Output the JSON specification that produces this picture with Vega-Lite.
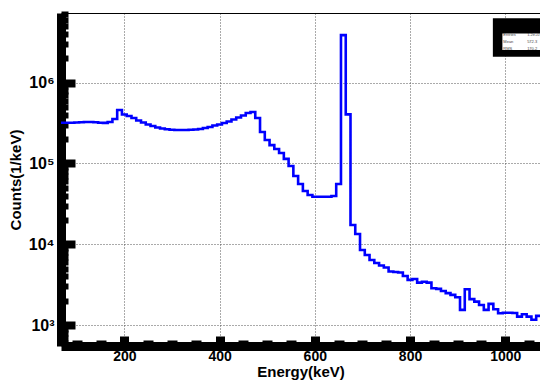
{
  "$schema": "https://vega.github.io/schema/vega-lite/v6.json",
  "width": 479,
  "height": 333,
  "autosize": {"type": "none"},
  "padding": {"left": 61, "top": 13, "right": 0, "bottom": 37},
  "background": "white",
  "config": {"view": {"stroke": null}, "font": "Liberation Sans"},
  "datasets": {
    "hist": [
      {"energy": 65, "counts": 320000},
      {"energy": 75, "counts": 320000},
      {"energy": 85, "counts": 320000},
      {"energy": 95, "counts": 322000},
      {"energy": 105, "counts": 324000},
      {"energy": 115, "counts": 326000},
      {"energy": 125, "counts": 326000},
      {"energy": 135, "counts": 324000},
      {"energy": 145, "counts": 320000},
      {"energy": 155, "counts": 318000},
      {"energy": 165, "counts": 326000},
      {"energy": 175, "counts": 355000},
      {"energy": 185, "counts": 459000},
      {"energy": 195, "counts": 404000},
      {"energy": 205, "counts": 387000},
      {"energy": 215, "counts": 366000},
      {"energy": 225, "counts": 340000},
      {"energy": 235, "counts": 322000},
      {"energy": 245, "counts": 304000},
      {"energy": 255, "counts": 291000},
      {"energy": 265, "counts": 279000},
      {"energy": 275, "counts": 271000},
      {"energy": 285, "counts": 265000},
      {"energy": 295, "counts": 262000},
      {"energy": 305, "counts": 260000},
      {"energy": 315, "counts": 260000},
      {"energy": 325, "counts": 260000},
      {"energy": 335, "counts": 262000},
      {"energy": 345, "counts": 264000},
      {"energy": 355, "counts": 267000},
      {"energy": 365, "counts": 275000},
      {"energy": 375, "counts": 283000},
      {"energy": 385, "counts": 295000},
      {"energy": 395, "counts": 304000},
      {"energy": 405, "counts": 317000},
      {"energy": 415, "counts": 331000},
      {"energy": 425, "counts": 350000},
      {"energy": 435, "counts": 371000},
      {"energy": 445, "counts": 393000},
      {"energy": 455, "counts": 422000},
      {"energy": 465, "counts": 434000},
      {"energy": 475, "counts": 366000},
      {"energy": 485, "counts": 245000},
      {"energy": 495, "counts": 195000},
      {"energy": 505, "counts": 169000},
      {"energy": 515, "counts": 151000},
      {"energy": 525, "counts": 135000},
      {"energy": 535, "counts": 114000},
      {"energy": 545, "counts": 93100},
      {"energy": 555, "counts": 70000},
      {"energy": 565, "counts": 55800},
      {"energy": 575, "counts": 45700},
      {"energy": 585, "counts": 40800},
      {"energy": 595, "counts": 38800},
      {"energy": 605, "counts": 38800},
      {"energy": 615, "counts": 38800},
      {"energy": 625, "counts": 38800},
      {"energy": 635, "counts": 39600},
      {"energy": 645, "counts": 55800},
      {"energy": 655, "counts": 3890000},
      {"energy": 665, "counts": 406000},
      {"energy": 675, "counts": 17300},
      {"energy": 685, "counts": 13400},
      {"energy": 695, "counts": 8500},
      {"energy": 705, "counts": 7370},
      {"energy": 715, "counts": 6390},
      {"energy": 725, "counts": 5870},
      {"energy": 735, "counts": 5470},
      {"energy": 745, "counts": 5160},
      {"energy": 755, "counts": 4610},
      {"energy": 765, "counts": 4540},
      {"energy": 775, "counts": 4480},
      {"energy": 785, "counts": 4050},
      {"energy": 795, "counts": 3620},
      {"energy": 805, "counts": 3720},
      {"energy": 815, "counts": 3350},
      {"energy": 825, "counts": 3440},
      {"energy": 835, "counts": 3350},
      {"energy": 845, "counts": 2850},
      {"energy": 855, "counts": 2800},
      {"energy": 865, "counts": 2640},
      {"energy": 875, "counts": 2480},
      {"energy": 885, "counts": 2360},
      {"energy": 895, "counts": 2210},
      {"energy": 905, "counts": 1540},
      {"energy": 915, "counts": 2770},
      {"energy": 925, "counts": 2090},
      {"energy": 935, "counts": 1950},
      {"energy": 945, "counts": 1770},
      {"energy": 955, "counts": 1540},
      {"energy": 965, "counts": 1830},
      {"energy": 975, "counts": 1570},
      {"energy": 985, "counts": 1400},
      {"energy": 995, "counts": 1420},
      {"energy": 1005, "counts": 1420},
      {"energy": 1015, "counts": 1410},
      {"energy": 1025, "counts": 1270},
      {"energy": 1035, "counts": 1360},
      {"energy": 1045, "counts": 1270},
      {"energy": 1055, "counts": 1160},
      {"energy": 1065, "counts": 1300},
      {"energy": 1075, "counts": 1300}
    ],
    "statbox": [
      {"part": "frame", "x0": 974, "x1": 1090, "y0": 2100000, "y1": 6300000, "fill": "black"},
      {"part": "inner", "x0": 994, "x1": 1090, "y0": 2540000, "y1": 4080000, "fill": "white"}
    ],
    "stattext": [
      {"label": "Entries", "value": "1.2e+07", "y": 3890000},
      {"label": "Mean", "value": "572.3", "y": 3210000},
      {"label": "RMS", "value": "170.2", "y": 2610000}
    ]
  },
  "layer": [
    {
      "data": {"name": "hist"},
      "mark": {"type": "line", "interpolate": "step-after", "color": "#0000ff", "strokeWidth": 2.6, "clip": true},
      "encoding": {
        "x": {
          "field": "energy", "type": "quantitative",
          "scale": {"domain": [67, 1073], "nice": false, "zero": false},
          "axis": {
            "orient": "bottom",
            "values": [100, 150, 200, 250, 300, 350, 400, 450, 500, 550, 600, 650, 700, 750, 800, 850, 900, 950, 1000, 1050],
            "format": "d",
            "labelExpr": "datum.value % 200 == 0 ? datum.label : ''",
            "title": "Energy(keV)",
            "titleFont": "Liberation Sans", "titleFontWeight": "bold", "titleFontSize": 15, "titleColor": "black",
            "titlePadding": -3,
            "labelFont": "Liberation Sans", "labelFontWeight": "bold", "labelFontSize": 14, "labelColor": "black",
            "labelPadding": 13,
            "labelFlush": false,
            "labelOverlap": false,
            "domainColor": "black", "domainWidth": 9,
            "tickColor": "black",
            "tickSize": {"condition": {"test": "datum.value % 200 == 0", "value": -10}, "value": -6},
            "tickWidth": {"condition": {"test": "datum.value % 200 == 0", "value": 9}, "value": 10},
            "grid": true,
            "gridColor": "#555", "gridDash": [1, 2], "gridWidth": 1,
            "gridOpacity": {"condition": {"test": "datum.value % 200 == 0", "value": 1}, "value": 0}
          }
        },
        "y": {
          "field": "counts", "type": "quantitative",
          "scale": {"type": "log", "domain": [550, 7300000], "nice": false},
          "axis": {
            "values": [600, 700, 800, 900, 1000, 2000, 3000, 4000, 5000, 6000, 7000, 8000, 9000, 10000, 20000, 30000, 40000, 50000, 60000, 70000, 80000, 90000, 100000, 200000, 300000, 400000, 500000, 600000, 700000, 800000, 900000, 1000000, 2000000, 3000000, 4000000, 5000000, 6000000, 7000000],
            "labelExpr": "datum.value == 1000 ? '10³' : datum.value == 10000 ? '10⁴' : datum.value == 100000 ? '10⁵' : datum.value == 1000000 ? '10⁶' : ''",
            "title": "Counts(1/keV)",
            "titleFont": "Liberation Sans", "titleFontWeight": "bold", "titleFontSize": 15, "titleColor": "black",
            "titlePadding": 5,
            "labelFont": "Liberation Sans", "labelFontWeight": "bold", "labelFontSize": 16, "labelColor": "black",
            "labelPadding": 21,
            "labelFlush": false,
            "labelOverlap": false,
            "domainColor": "black", "domainWidth": 9,
            "tickColor": "black",
            "tickSize": {"condition": {"test": "datum.value == 1000 || datum.value == 10000 || datum.value == 100000 || datum.value == 1000000", "value": -14}, "value": -7},
            "tickWidth": {"condition": {"test": "datum.value == 1000 || datum.value == 10000 || datum.value == 100000 || datum.value == 1000000", "value": 8}, "value": 6},
            "grid": true,
            "gridColor": "#555", "gridDash": [1, 2], "gridWidth": 1,
            "gridOpacity": {"condition": {"test": "datum.value == 1000 || datum.value == 10000 || datum.value == 100000 || datum.value == 1000000", "value": 1}, "value": 0}
          }
        }
      }
    },
    {
      "data": {"name": "hist"},
      "mark": {"type": "line", "opacity": 0, "clip": true},
      "encoding": {
        "x": {
          "field": "energy", "type": "quantitative",
          "scale": {"domain": [67, 1073], "nice": false, "zero": false},
          "axis": {"orient": "top", "labels": false, "ticks": false, "grid": false, "title": null, "domainColor": "black", "domainWidth": 1}
        }
      }
    },
    {
      "data": {"name": "statbox"},
      "mark": {"type": "rect", "clip": true},
      "encoding": {
        "x": {"field": "x0", "type": "quantitative", "axis": null},
        "x2": {"field": "x1"},
        "y": {"field": "y0", "type": "quantitative"},
        "y2": {"field": "y1"},
        "color": {"field": "fill", "type": "nominal", "scale": null}
      }
    },
    {
      "data": {"name": "stattext"},
      "mark": {"type": "text", "align": "left", "fontSize": 4, "color": "#444", "clip": true},
      "encoding": {
        "x": {"datum": 996, "type": "quantitative", "axis": null},
        "y": {"field": "y", "type": "quantitative"},
        "text": {"field": "label"}
      }
    },
    {
      "data": {"name": "stattext"},
      "mark": {"type": "text", "align": "left", "fontSize": 4, "color": "#444", "clip": true},
      "encoding": {
        "x": {"datum": 1046, "type": "quantitative", "axis": null},
        "y": {"field": "y", "type": "quantitative"},
        "text": {"field": "value"}
      }
    }
  ],
  "resolve": {"axis": {"x": "independent", "y": "shared"}}
}
